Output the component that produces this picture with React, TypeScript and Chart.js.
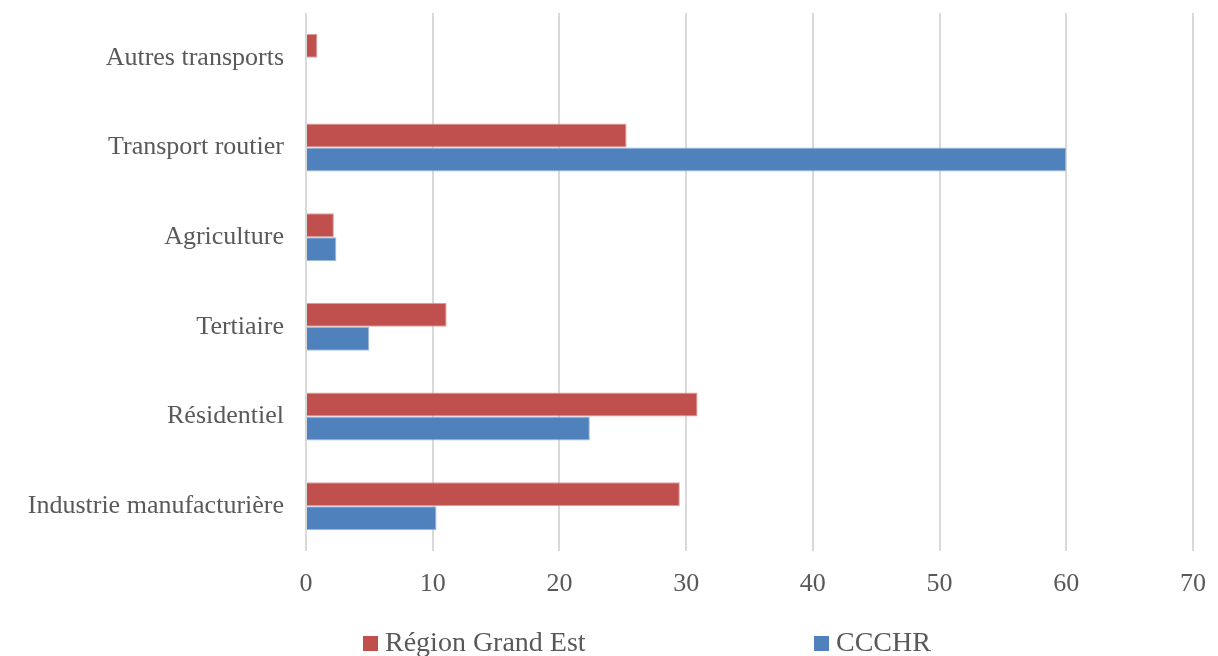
import React, { useEffect, useRef } from "react";
import { Chart, registerables } from "chart.js";

Chart.register(...registerables);

// Émissions par secteur (%), Région Grand Est vs CCCHR
const categories = [
  "Autres transports",
  "Transport routier",
  "Agriculture",
  "Tertiaire",
  "Résidentiel",
  "Industrie manufacturière",
];
const regionGrandEst = [0.9, 25.3, 2.2, 11.1, 30.9, 29.5];
const ccchr = [null, 60.0, 2.4, 5.0, 22.4, 10.3];
const seriesNames = ["Région Grand Est", "CCCHR"];
const seriesColors = ["#C0504D", "#4F81BD"];
const seriesBorders = ["#DDA09E", "#A3BCDD"];

const FONT = "'Liberation Serif', 'Times New Roman', serif";
const TEXT = "#595959";

// Bottom legend drawn on the canvas with wide item spacing
const legendSlots = [363, 814];
const bottomLegend = {
  id: "bottomLegend",
  afterDraw(chart: any) {
    const ctx = chart.ctx as CanvasRenderingContext2D;
    ctx.save();
    ctx.font = `28px ${FONT}`;
    ctx.textBaseline = "alphabetic";
    ctx.textAlign = "left";
    chart.data.datasets.forEach((ds: any, i: number) => {
      const x = legendSlots[i];
      ctx.fillStyle = ds.backgroundColor;
      ctx.fillRect(x, 636, 15, 15);
      ctx.fillStyle = TEXT;
      ctx.fillText(ds.label, x + 22, 651);
    });
    ctx.restore();
  },
};

export default function App() {
  const ref = useRef<HTMLCanvasElement | null>(null);

  useEffect(() => {
    document.body.style.margin = "0";
    const canvas = ref.current;
    if (!canvas) return;
    const chart = new Chart(canvas, {
      type: "bar",
      data: {
        labels: categories,
        datasets: [
          {
            label: seriesNames[0],
            data: regionGrandEst,
            backgroundColor: seriesColors[0],
            borderColor: seriesBorders[0],
            borderWidth: 1,
          },
          {
            label: seriesNames[1],
            data: ccchr,
            backgroundColor: seriesColors[1],
            borderColor: seriesBorders[1],
            borderWidth: 1,
          },
        ],
      },
      options: {
        indexAxis: "y",
        animation: false,
        responsive: false,
        maintainAspectRatio: false,
        datasets: {
          bar: { barPercentage: 1, categoryPercentage: 0.535 },
        },
        layout: { padding: { top: 13, right: 25, bottom: 0, left: 0 } },
        plugins: {
          legend: { display: false },
          tooltip: { enabled: false },
        },
        scales: {
          x: {
            min: 0,
            max: 70,
            ticks: {
              stepSize: 10,
              color: TEXT,
              font: { family: FONT, size: 26 },
              padding: 18,
            },
            grid: { color: "#D9D9D9", lineWidth: 2, drawTicks: false },
            border: { display: false },
            afterFit(scale: any) {
              scale.height = 105;
              scale.paddingLeft = 0;
              scale.paddingRight = 0;
            },
          },
          y: {
            ticks: {
              color: TEXT,
              font: { family: FONT, size: 26 },
              padding: 22,
            },
            grid: { display: false, drawTicks: false },
            border: { display: false },
            afterFit(scale: any) {
              scale.width = 306;
              scale.paddingTop = 0;
              scale.paddingBottom = 0;
            },
          },
        },
      },
      plugins: [bottomLegend],
    });
    return () => chart.destroy();
  }, []);

  return (
    <div style={{ width: 1218, height: 656, background: "#fff" }}>
      <canvas ref={ref} width={1218} height={656} style={{ display: "block" }} />
    </div>
  );
}
